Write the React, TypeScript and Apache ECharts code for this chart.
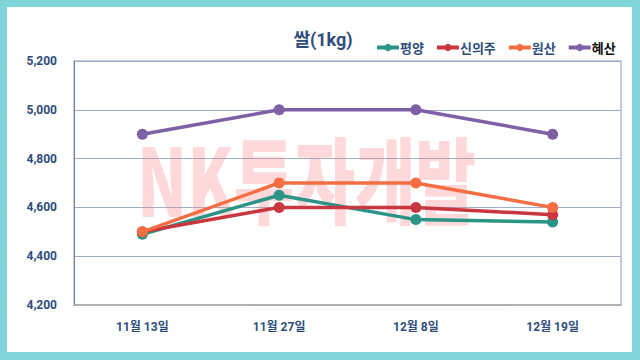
import React, { useEffect, useRef } from "react";
import * as echarts from "echarts";

const categories = ["11월 13일", "11월 27일", "12월 8일", "12월 19일"];
const pyongyang = [4490, 4650, 4550, 4540];
const sinuiju = [4500, 4600, 4600, 4570];
const wonsan = [4500, 4700, 4700, 4600];
const hyesan = [4900, 5000, 5000, 4900];
const seriesNames = ["평양", "신의주", "원산", "혜산"];
const seriesColors = ["#2a9587", "#c8373f", "#f46d43", "#7d60a6"];

export default function App() {
  const ref = useRef<HTMLDivElement>(null);
  useEffect(() => {
    if (!ref.current) return;
    const chart = echarts.init(ref.current, null, { renderer: "svg" });
    const datas = [pyongyang, sinuiju, wonsan, hyesan];
    const navy = "#2e4d7d";
    chart.setOption({
      animation: false,
      backgroundColor: "#7fd4d7",
      graphic: [
        {
          type: "rect",
          shape: { x: 7, y: 7, width: 625, height: 345 },
          style: { fill: "#ffffff" },
          z: -10,
          silent: true,
        },
        {
          type: "text",
          x: 137,
          y: 176,
          scaleX: 0.7,
          z: 1,
          silent: true,
          style: {
            text: "NK투자개발",
            fill: "rgba(255,120,120,0.28)",
            font: "900 94px 'Noto Sans CJK KR', 'Noto Sans', sans-serif",
            align: "left",
            verticalAlign: "middle",
          },
        },
      ],
      title: {
        text: "쌀(1kg)",
        left: 318,
        top: 25,
        textAlign: "center",
        textStyle: {
          color: navy,
          fontSize: 18,
          fontWeight: "bold",
          fontFamily: "Roboto, 'Noto Sans CJK KR', sans-serif",
        },
      },
      legend: {
        top: 36,
        left: 370,
        itemGap: 11,
        itemWidth: 22,
        itemHeight: 9,
        lineStyle: { width: 4 },
        textStyle: {
          color: navy,
          fontSize: 13,
          fontWeight: "bold",
          fontFamily: "'Noto Sans CJK KR', sans-serif",
          padding: [0, 0, 0, -4],
        },
        data: seriesNames.map((n, i) =>
          i === 3 ? { name: n, textStyle: { color: "#111111" } } : { name: n }
        ),
      },
      grid: {
        left: 74,
        right: 19,
        top: 61,
        bottom: 55,
        show: true,
        borderColor: "#b2bfd2",
        borderWidth: 1.5,
      },
      xAxis: {
        type: "category",
        data: categories,
        boundaryGap: true,
        axisTick: { show: false },
        axisLine: { show: true, lineStyle: { color: "#aaaaaa", width: 1.5 } },
        axisLabel: {
          color: navy,
          fontSize: 12,
          fontWeight: "bold",
          margin: 16,
          fontFamily: "Roboto, 'Noto Sans CJK KR', sans-serif",
        },
      },
      yAxis: {
        type: "value",
        min: 4200,
        max: 5200,
        interval: 200,
        axisLine: { show: true, lineStyle: { color: "#6d89aa", width: 1 } },
        axisTick: { show: false },
        splitLine: { lineStyle: { color: "#9fb0c6", width: 1.2 } },
        axisLabel: {
          color: navy,
          fontSize: 12,
          fontWeight: "bold",
          margin: 17,
          fontFamily: "Roboto, sans-serif",
          formatter: (v: number) => v.toLocaleString("en-US"),
        },
      },
      series: seriesNames.map((n, i) => ({
        name: n,
        type: "line",
        data: datas[i],
        symbol: "circle",
        symbolSize: 11,
        color: seriesColors[i],
        lineStyle: { width: 3.5, color: seriesColors[i] },
        itemStyle: { color: seriesColors[i] },
        z: 2 + i,
      })),
    });
    return () => chart.dispose();
  }, []);
  return <div ref={ref} style={{ width: 640, height: 360, position: "absolute", left: 0, top: 0 }} />;
}
